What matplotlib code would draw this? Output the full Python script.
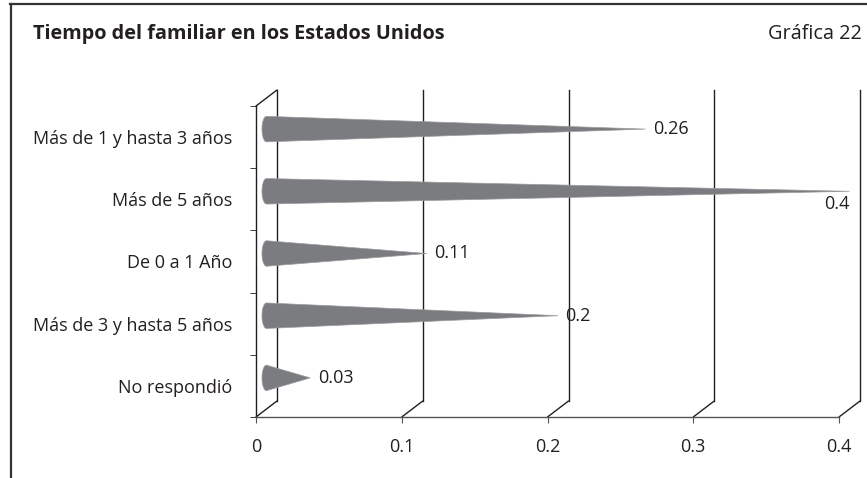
import numpy as np
import matplotlib.pyplot as plt
from matplotlib.transforms import ScaledTranslation
from matplotlib.patches import Polygon, ConnectionPatch
from matplotlib.lines import Line2D

categorias = ['Más de 1 y hasta 3 años', 'Más de 5 años', 'De 0 a 1 Año',
              'Más de 3 y hasta 5 años', 'No respondió']
valores = [0.26, 0.4, 0.11, 0.2, 0.03]
etiquetas = ['0.26', '0.4', '0.11', '0.2', '0.03']
ticks_x = [0, 0.1, 0.2, 0.3, 0.4]
ticks_lbl = ['0', '0.1', '0.2', '0.3', '0.4']

plt.rcParams['font.family'] = ['Open Sans', 'DejaVu Sans']
txt = '#231f20'

W, H = 867, 478
fig = plt.figure(figsize=(W / 100, H / 100), dpi=100)

# front plane of the fake 3d chart
ax = fig.add_axes([256 / W, (H - 417) / H, (839 - 256) / W, (417 - 106) / H])
ax.set_xlim(0, 0.4)
ax.set_ylim(len(categorias) - 0.5, -0.5)
ax.patch.set_visible(False)
for s in ['top', 'right']:
    ax.spines[s].set_visible(False)
ax.spines['left'].set_color(txt)
ax.spines['bottom'].set_color('#555555')
ax.spines['left'].set_linewidth(1.0)
ax.spines['bottom'].set_linewidth(1.0)

ax.set_xticks(ticks_x)
ax.set_xticklabels(ticks_lbl)
ax.tick_params(axis='x', length=4, color='#555555', pad=11, labelsize=13, labelcolor=txt)
ax.set_yticks(range(len(categorias)))
ax.set_yticklabels(categorias)
ax.tick_params(axis='y', which='major', length=0, pad=17, labelsize=13, labelcolor=txt)
ax.set_yticks(np.arange(-0.5, len(categorias)), minor=True)
ax.tick_params(axis='y', which='minor', length=4, color=txt)

back = ax.transData + ScaledTranslation(0.21, 0.16, fig.dpi_scale_trans)
mid = ax.transData + ScaledTranslation(0.105, 0.08, fig.dpi_scale_trans)

# back wall grid + depth lines
ybot, ytop = len(categorias) - 0.5, -0.5
for x in ticks_x:
    ax.plot([x, x], [ybot, ytop], transform=back, color=txt, lw=1.0,
            clip_on=False, zorder=1)
    ax.add_artist(ConnectionPatch((x, ybot), (x, ybot), coordsA=ax.transData,
                                  coordsB=back, color=txt, lw=1.0, zorder=1))
ax.add_artist(ConnectionPatch((0, ytop), (0, ytop), coordsA=ax.transData,
                              coordsB=back, color=txt, lw=1.0, zorder=1))

# cones
h = 0.205
a = 0.0031
t = np.linspace(np.pi / 2, 3 * np.pi / 2, 30)
for i, v in enumerate(valores):
    pts = [(a * np.cos(tt), i - h * np.sin(tt)) for tt in t]
    pts = pts[::-1] + [(v, i)]
    ax.add_patch(Polygon(pts, closed=True, transform=mid, facecolor='#7b7c80',
                         edgecolor='#9a9b9e', lw=0.5, clip_on=False, zorder=3))
    if v == max(valores):
        off = ScaledTranslation(0.0, -0.13, fig.dpi_scale_trans)
        ax.text(v, i, etiquetas[i], transform=mid + off, ha='right', va='center',
                fontsize=13, color=txt, zorder=4)
    else:
        off = ScaledTranslation(0.075, 0.0, fig.dpi_scale_trans)
        ax.text(v, i, etiquetas[i], transform=mid + off, ha='left', va='center',
                fontsize=13, color=txt, zorder=4)

# header and frame
fig.text(33 / W, 1 - 39 / H, 'Tiempo del familiar en los Estados Unidos',
         fontsize=14.3, fontweight='bold', color=txt, va='baseline', ha='left')
fig.text(862 / W, 1 - 39 / H, 'Gráfica 22', fontsize=14.3, color=txt,
         va='baseline', ha='right')
fig.add_artist(Line2D([10 / W, 1], [1 - 4 / H, 1 - 4 / H], color='#333333', lw=1.6))
fig.add_artist(Line2D([11 / W, 11 / W], [0, 1 - 4 / H], color='#333333', lw=1.6))

fig.savefig('out.png', dpi=100)
